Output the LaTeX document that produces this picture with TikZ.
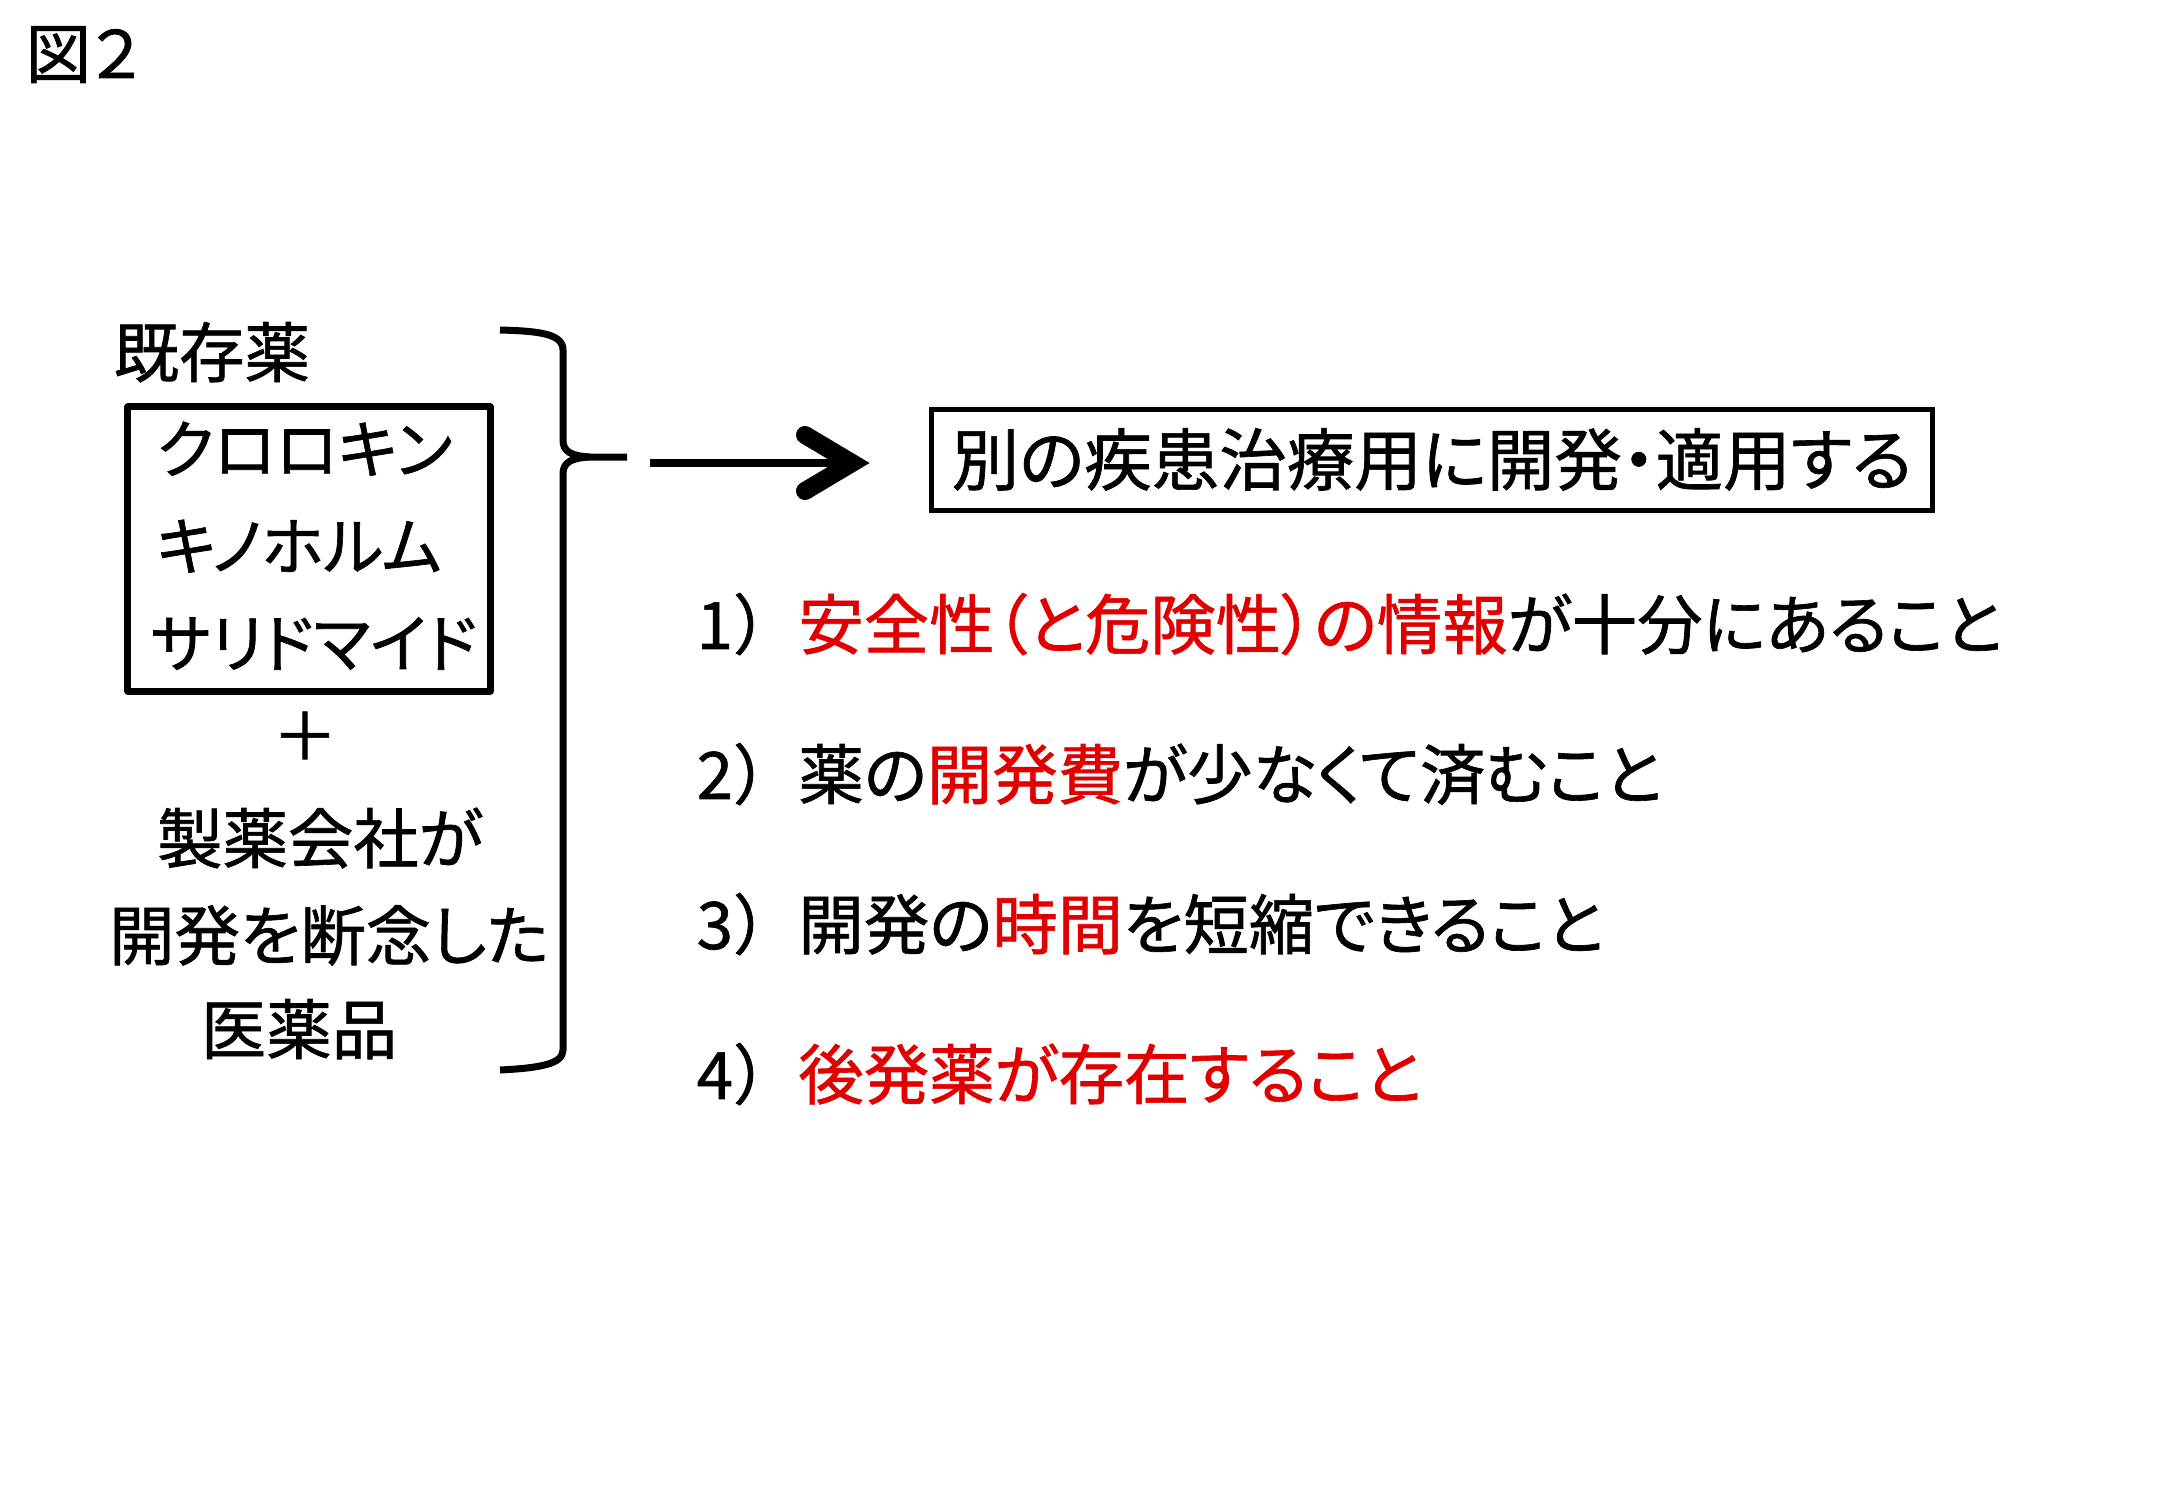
\documentclass[tikz,border=0pt]{standalone}
\usepackage{fontspec}
\setmainfont{Noto Sans CJK JP}[RawFeature=+palt,FakeBold=1]
\newfontfamily\jpfull{Noto Sans CJK JP}[FakeBold=1]
\usetikzlibrary{calc}
\definecolor{jred}{RGB}{225,0,0}
\begin{document}
\begin{tikzpicture}[x=0.01cm,y=-0.01cm,
  txt/.style={inner sep=0pt, font=\fontsize{18.6pt}{23pt}\selectfont, text height=16.4pt, text depth=2.2pt},
  kana/.style={txt, font=\fontsize{18.1pt}{23pt}\selectfont},
  heavy/.style={line width=0.07cm, line join=round},
  framebox/.style={draw, heavy, inner sep=0pt},
  shaft/.style={line width=0.085cm},
  head/.style={line width=0.18cm, line cap=round, line join=miter}]
\useasboundingbox[fill=white] (0,0) rectangle (2167,1500);

% title
\node[txt, anchor=west] (fig) at (25,53) {図２};

% left column
\node[txt, anchor=west] (kison) at (113,352) {既存薬};
\node[framebox, minimum width=3.62cm, minimum height=2.84cm] (drugs) at (309,549) {};
\node[kana, anchor=west] (d1) at (156,448) {クロロキン};
\node[kana, anchor=west] (d2) at (156,545) {キノホルム};
\node[kana, anchor=west] (d3) at (150,642) {サリドマイド};
\node[txt] (plus) at (305,735) {＋};
\node[txt] (maker) at (320,838) {製薬会社が};
\node[txt] (aband) at (329,935) {開発を断念した};
\node[txt] (iyaku) at (299,1029) {医薬品};

% brace
\coordinate (btop) at (500,330);
\coordinate (btip) at (627,457);
\coordinate (bbot) at (500,1070);
\draw[heavy] (btop) .. controls (540,331) and (563,334) .. (563,350) -- (563,440)
  .. controls (563,451) and (570,456) .. (590,457) -- (btip);
\draw[heavy] (590,457) .. controls (570,458) and (563,463) .. (563,474) -- (563,1050)
  .. controls (563,1064) and (540,1068) .. (bbot);

% arrow
\coordinate (astart) at (650,463);
\coordinate (atip) at (852,463);
\draw[shaft] (astart) -- (atip);
\draw[head] ($(atip)+(-47,-28)$) -- (atip) -- ($(atip)+(-47,28)$);

% target box
\node[txt, font=\fontsize{19.2pt}{23pt}\selectfont, draw, line width=0.05cm, minimum width=10cm, minimum height=1.01cm] (target) at (1432,460) {別の疾患治療用に開発・適用する};

% conditions
\node[txt, anchor=west] (r1) at (696,624) {{\jpfull 1）}\textcolor{jred}{安全性（と危険性）の情報}が十分にあること};
\node[txt, anchor=west] (r2) at (696,774) {{\jpfull 2）}薬の\textcolor{jred}{開発費}が少なくて済むこと};
\node[txt, anchor=west] (r3) at (696,924) {{\jpfull 3）}開発の\textcolor{jred}{時間}を短縮できること};
\node[txt, anchor=west] (r4) at (696,1074) {{\jpfull 4）}\textcolor{jred}{後発薬が存在すること}};
\end{tikzpicture}
\end{document}
